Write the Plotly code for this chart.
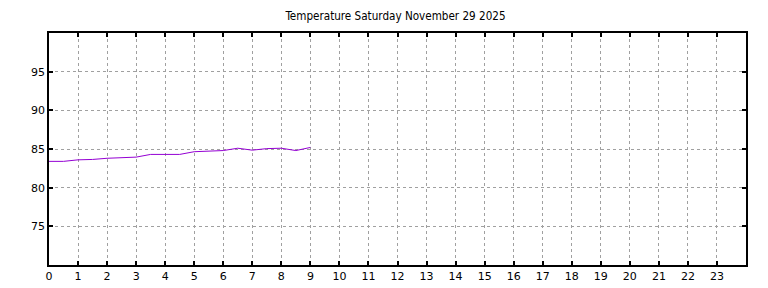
import plotly.graph_objects as go

hours = [0, 0.5, 1, 1.5, 2, 2.5, 3, 3.5, 4, 4.5, 5, 5.5, 6, 6.5, 7, 7.5, 8, 8.5, 9]
temps = [83.4, 83.4, 83.6, 83.65, 83.8, 83.9, 83.95, 84.3, 84.3, 84.3, 84.65, 84.7, 84.8, 85.1, 84.85, 85.05, 85.1, 84.8, 85.2]
x_ticks = list(range(24))
y_ticks = [75, 80, 85, 90, 95]
title = "Temperature Saturday November 29 2025"

fig = go.Figure()
fig.add_trace(go.Scatter(x=hours, y=temps, mode="lines",
                         line=dict(color="#9400D3", width=1), showlegend=False))

axis_common = dict(showline=True, linecolor="black", linewidth=1.5, mirror="ticks",
                   ticks="inside", ticklen=4, tickwidth=1.5, tickcolor="black",
                   showgrid=True, gridcolor="#a0a0a0", griddash="dot", gridwidth=1,
                   zeroline=False, automargin=False,
                   tickfont=dict(family="DejaVu Sans", size=11, color="black"))

fig.update_xaxes(range=[0, 24], tickvals=x_ticks, ticktext=[str(t) for t in x_ticks], **axis_common)
fig.update_yaxes(range=[70, 100], tickvals=y_ticks, ticktext=[str(t) for t in y_ticks], **axis_common)

fig.update_layout(
    width=768, height=288,
    margin=dict(l=49, r=22, t=33, b=23, autoexpand=False),
    paper_bgcolor="white", plot_bgcolor="white",
    title=dict(text=title, x=0.515, xanchor="center", y=0.945, yanchor="middle",
               font=dict(family="DejaVu Sans Condensed", size=11.6, color="black")),
)

fig.write_html("out.html")
